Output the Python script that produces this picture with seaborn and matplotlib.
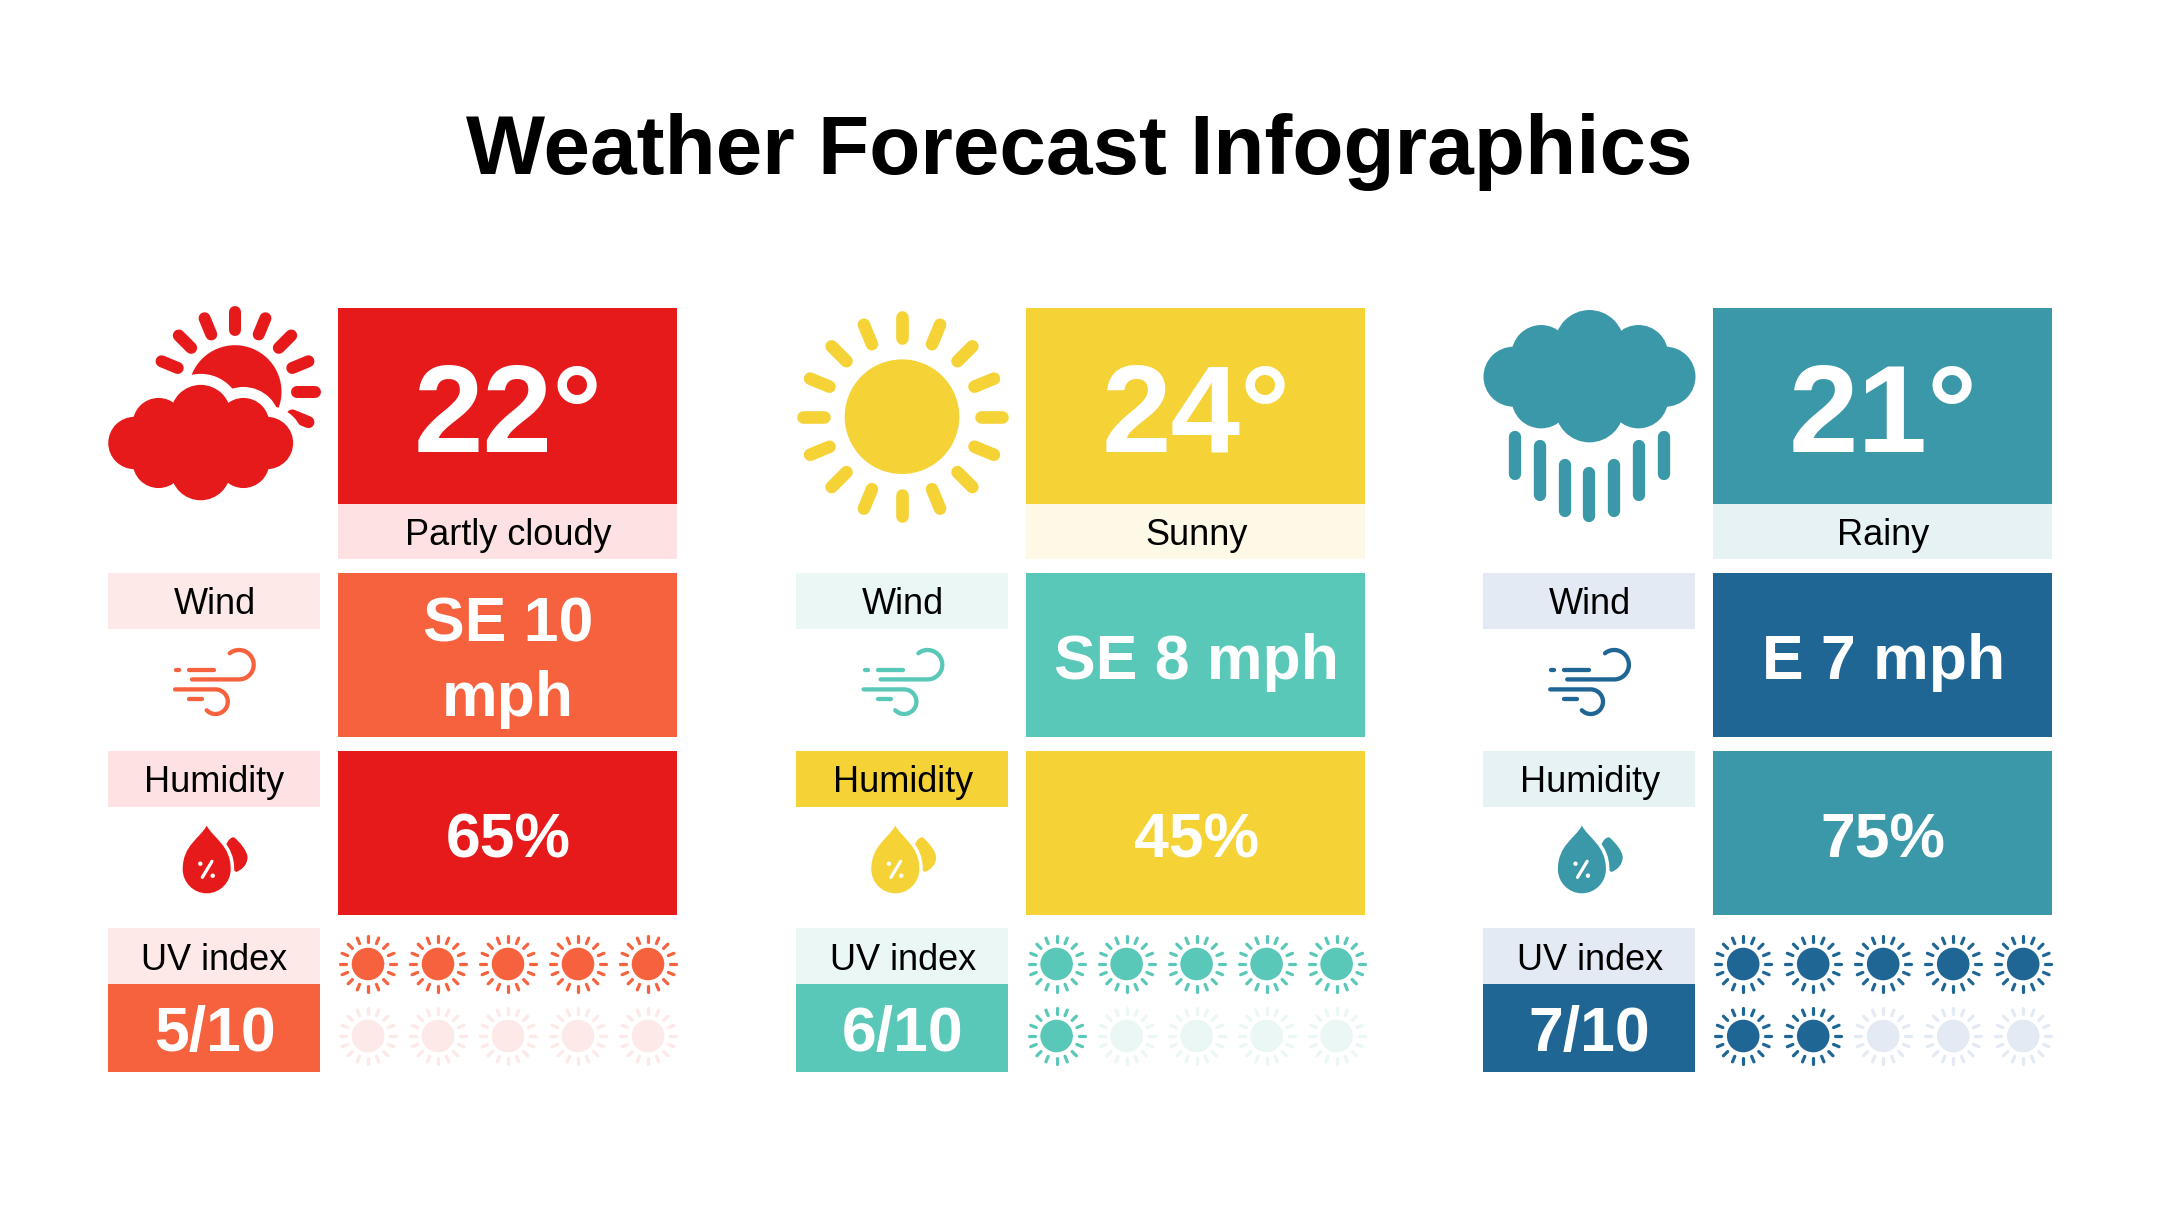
import numpy as np
import pandas as pd
import matplotlib
matplotlib.use('Agg')
import matplotlib.pyplot as plt
from matplotlib.patches import Rectangle, Circle, PathPatch
from matplotlib.path import Path
from matplotlib.collections import LineCollection
import seaborn as sns

title = 'Weather Forecast Infographics'
temps = ['22°', '24°', '21°']
conditions = ['Partly cloudy', 'Sunny', 'Rainy']
winds = [['SE 10', 'mph'], ['SE 8 mph'], ['E 7 mph']]
humidity = ['65%', '45%', '75%']
uv_index = [5, 6, 7]
uv_max = 10

# colours of each panel
main_col = ['#E61A1B', '#F5D236', '#3B98A9']
main_pale = ['#FDE1E3', '#FEF8E7', '#E7F2F4']
wind_col = ['#F6623E', '#5AC8B8', '#1F6695']
wind_pale = ['#FDE9E7', '#EAF7F5', '#E4EAF3']
hum_label = ['#FDE1E3', '#F5D236', '#E7F2F4']

sns.set_theme(style='white')
plt.rcParams['font.family'] = ['Liberation Sans', 'DejaVu Sans']

fig = plt.figure(figsize=(21.6, 12.15), dpi=100, facecolor='white')
ax = fig.add_axes([0, 0, 1, 1])
ax.set_xlim(0, 2160)
ax.set_ylim(1215, 0)
ax.axis('off')

PX = 0.72  # px to points


def tile(x0, x1, y0, y1, color):
    ax.add_patch(Rectangle((x0, y0), x1 - x0, y1 - y0, fc=color, ec='none', zorder=1))


def rays(cx, cy, r0, r1, width, color, angles, z=3):
    a = np.radians(angles)
    segs = [[(cx + r0 * np.cos(t), cy - r0 * np.sin(t)), (cx + r1 * np.cos(t), cy - r1 * np.sin(t))] for t in a]
    ax.add_collection(LineCollection(segs, colors=color, linewidths=width * PX, capstyle='round', zorder=z))


def cloud(cx, cy, k, color, halo=0, z=4):
    bumps = [(-228, 0, 90), (228, 0, 90), (-145, -66, 89), (147, -66, 89), (-145, 66, 89), (147, 66, 89),
             (0, -96, 104), (0, 94, 103)]
    for dx, dy, r in bumps:
        ax.add_patch(Circle((cx + dx * k / 3, cy + dy * k / 3), r * k / 3 + halo, fc=color, ec='none', zorder=z))
    ax.add_patch(Rectangle((cx - 150 * k / 3, cy - 75 * k / 3), 300 * k / 3, 150 * k / 3, fc=color, ec='none', zorder=z))


def drop(cx, cy, r, apex, color, z=4, ec='none', lw=0):
    h = cy - apex
    verts = [(cx, apex), (cx + .3 * r, apex + .3 * h), (cx + r, cy - .55 * h), (cx + r, cy),
             (cx + r, cy + .55 * r), (cx + .55 * r, cy + r), (cx, cy + r),
             (cx - .55 * r, cy + r), (cx - r, cy + .55 * r), (cx - r, cy),
             (cx - r, cy - .55 * h), (cx - .3 * r, apex + .3 * h), (cx, apex)]
    codes = [Path.MOVETO] + [Path.CURVE4] * 12
    ax.add_patch(PathPatch(Path(verts, codes), fc=color, ec=ec, lw=lw, zorder=z))


def wind_icon(dx, color):
    t1 = np.radians(np.linspace(-90, 129, 40))
    t2 = np.radians(np.linspace(90, -136, 40))
    top = np.vstack([[(192, 679.4)], np.c_[239 + 14.7 * np.cos(t1), 664.7 - 14.7 * np.sin(t1)]])
    low = np.vstack([[(175, 689.4)], np.c_[215.5 + 12.3 * np.cos(t2), 701.7 - 12.3 * np.sin(t2)]])
    lines = [[(176, 670), (179, 670)], [(189, 670), (214, 670)], [(189, 699), (202, 699)], top, low]
    lines = [np.asarray(l, dtype=float) + (dx, 0) for l in lines]
    ax.add_collection(LineCollection(lines, colors=color, linewidths=4.3 * PX, capstyle='round', joinstyle='round', zorder=3))


def humidity_icon(dx, color):
    # small drop behind, then a white gap and the main drop
    verts = [(226 + dx, 845), (228 + dx, 840), (231 + dx, 837), (234 + dx, 837.3), (240 + dx, 842), (248 + dx, 852),
             (247.5 + dx, 858), (247 + dx, 865), (242 + dx, 870), (236 + dx, 872), (222 + dx, 860), (226 + dx, 845)]
    codes = [Path.MOVETO] + [Path.CURVE4] * 9 + [Path.LINETO] * 2
    ax.add_patch(PathPatch(Path(verts, codes), fc=color, ec='none', zorder=3))
    drop(206.7 + dx, 869.3, 24, 825.7, 'white', z=3.5, ec='white', lw=7 * PX)
    drop(206.7 + dx, 869.3, 24, 825.7, color, z=4)
    ax.plot([202.3 + dx, 212 + dx], [877.4, 861.3], color='white', lw=3.2 * PX, solid_capstyle='round', zorder=5)
    ax.add_patch(Circle((200.3 + dx, 863.7), 2.2, fc='white', ec='none', zorder=5))
    ax.add_patch(Circle((212.7 + dx, 875.7), 2.2, fc='white', ec='none', zorder=5))


def label(x, y, s, size, color='black', weight='normal'):
    ax.text(x, y, s, fontsize=size, color=color, fontweight=weight, ha='center', va='baseline', zorder=6)


ax.text(1079, 174, title, fontsize=60.3, fontweight='bold', color='black', ha='center', va='baseline')

L0, L1, R0, R1 = 107.5, 319.5, 337.5, 676.5
offsets = [0, 688.6, 1375.2]
sun_x = [368, 438, 508, 578, 648]
sun_y = [964, 1036]

for i, dx in enumerate(offsets):
    lc = (L0 + L1) / 2 + dx + 1
    rc = (R0 + R1) / 2 + dx + 1

    tile(R0 + dx, R1 + dx, 308, 504, main_col[i])
    tile(R0 + dx, R1 + dx, 504, 559, main_pale[i])
    tile(L0 + dx, L1 + dx, 573, 629, wind_pale[i])
    tile(R0 + dx, R1 + dx, 573, 737, wind_col[i])
    tile(L0 + dx, L1 + dx, 751, 807, hum_label[i])
    tile(R0 + dx, R1 + dx, 751, 915, main_col[i])
    tile(L0 + dx, L1 + dx, 928, 984, wind_pale[i])
    tile(L0 + dx, L1 + dx, 984, 1072, wind_col[i])

    label(rc, 452, temps[i], 90, 'white', 'bold')
    label(rc, 545, conditions[i], 26)
    label(lc, 614.5, 'Wind', 26)
    if len(winds[i]) == 2:
        label(rc, 641, winds[i][0], 45, 'white', 'bold')
        label(rc, 716, winds[i][1], 45, 'white', 'bold')
    else:
        label(rc, 679, winds[i][0], 45, 'white', 'bold')
    label(lc, 792.5, 'Humidity', 26)
    label(rc, 857, humidity[i], 45, 'white', 'bold')
    label(lc, 970.5, 'UV index', 26)
    label(lc, 1051, f'{uv_index[i]}/{uv_max}', 45, 'white', 'bold')

    wind_icon(dx, wind_col[i])
    humidity_icon(dx, main_col[i])

    # UV suns, one per index point
    suns = pd.DataFrame({'x': [x + dx for _ in sun_y for x in sun_x],
                         'y': [y for y in sun_y for _ in sun_x]})
    suns['on'] = [n < uv_index[i] for n in range(uv_max)]
    sns.scatterplot(data=suns, x='x', y='y', hue='on', palette={True: wind_col[i], False: wind_pale[i]},
                    hue_order=[True, False], s=(32.6 * PX) ** 2, linewidth=0, legend=False, ax=ax, zorder=3)
    for _, row in suns.iterrows():
        rays(row['x'], row['y'], 22, 28, 3.2, wind_col[i] if row['on'] else wind_pale[i], np.arange(0, 360, 22.5))

# big weather icons
sun_col = main_col[0]
ax.add_patch(Circle((235, 391.7), 46.5, fc=sun_col, ec='none', zorder=2))
rays(235, 391.7, 62, 79.5, 12, sun_col, np.arange(-22.5, 158, 22.5))
cloud(200.7, 443, 0.872, 'white', halo=11, z=3)
cloud(200.7, 443, 0.872, sun_col, z=4)

ax.add_patch(Circle((902, 416.7), 57.3, fc=main_col[1], ec='none', zorder=2))
rays(902, 416.7, 78.5, 99.5, 12.6, main_col[1], np.arange(0, 360, 22.5))

cloud(1589.5, 376.7, 1, main_col[2])
drop_x = [105, 180, 254, 328, 403, 477, 551]
drop_top = [423, 450, 507, 532, 507, 450, 423]
drop_end = [570, 632, 681, 697, 681, 632, 570]
for x, y0, y1 in zip(drop_x, drop_top, drop_end):
    ax.plot([1480 + x / 3] * 2, [290 + y0 / 3 + 6, 290 + y1 / 3 - 6], color=main_col[2], lw=12.3 * PX,
            solid_capstyle='round', zorder=3)

ax.set_xlabel('')
ax.set_ylabel('')
ax.set_xlim(0, 2160)
ax.set_ylim(1215, 0)
fig.savefig('out.png', dpi=100, facecolor='white')
